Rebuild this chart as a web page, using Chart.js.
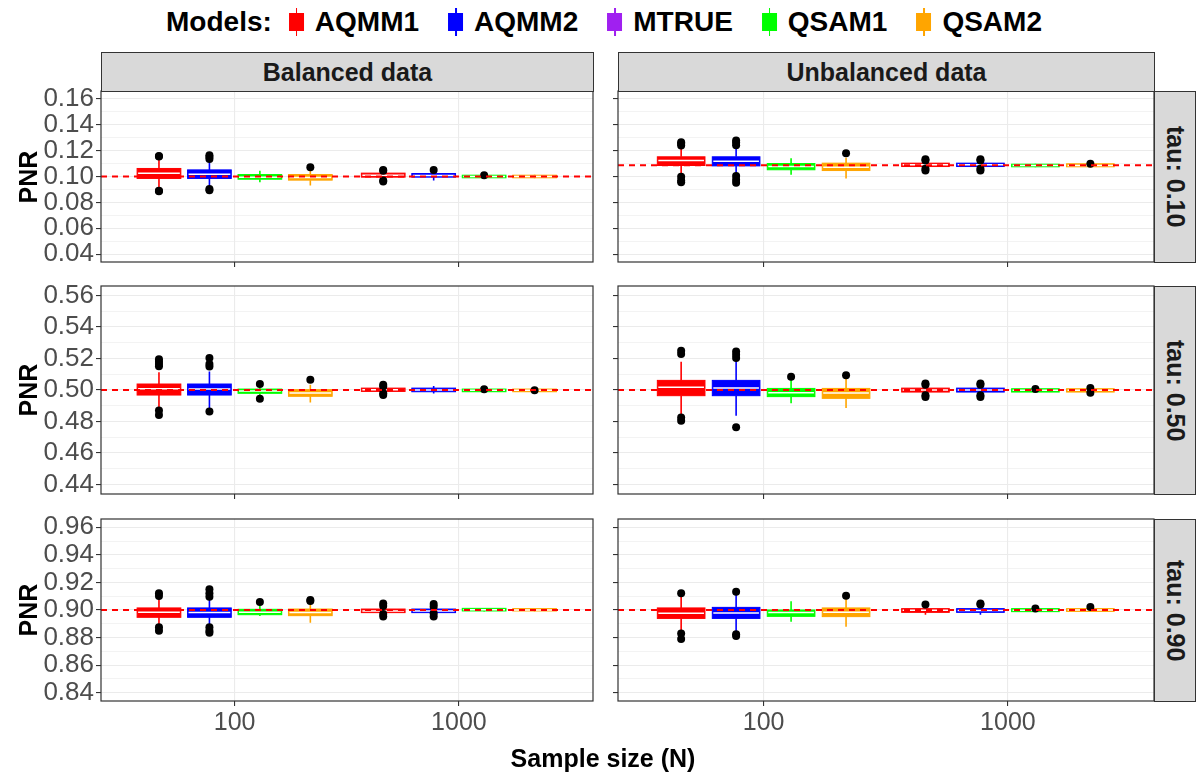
<!DOCTYPE html>
<html>
<head>
<meta charset="utf-8">
<script src="https://cdn.jsdelivr.net/npm/chart.js@4.4.0/dist/chart.umd.min.js"></script>
<style>
  body { margin: 0; width: 1198px; height: 775px; background: #fff; position: relative; overflow: hidden;
         font-family: "Liberation Sans", Arial, Helvetica, sans-serif; }
  .abs { position: absolute; }
  .strip { position: absolute; background: #D9D9D9; border: 1px solid #333; box-sizing: border-box;
           display: flex; align-items: center; justify-content: center; color: #1A1A1A; font-weight: bold; font-size: 25px; }
  .vstrip span { writing-mode: vertical-rl; }
  .title { position: absolute; font-weight: bold; font-size: 25px; color: #000; white-space: nowrap; transform: translate(-50%, -50%); }
  #legend { position: absolute; left: 604px; top: 22px; transform: translate(-50%, -50%); display: flex; align-items: center;
            font-weight: bold; font-size: 28px; white-space: nowrap; }
  .key { position: relative; width: 15px; height: 28px; margin-right: 11px; }
  .key i { position: absolute; left: 7px; top: 0; width: 1.5px; height: 28px; }
  .key b { position: absolute; left: 0; top: 5px; width: 15px; height: 18px; }
  .item { display: flex; align-items: center; }
</style>
</head>
<body>
<div id="legend"><span>Models:</span></div>

<script>
// ---- data ----
const models = ['AQMM1', 'AQMM2', 'QSAM1', 'QSAM2'];
const modelColors = ['#FF0000', '#0000FF', '#00FF00', '#FFA500'];
const legendModels = ['AQMM1', 'AQMM2', 'MTRUE', 'QSAM1', 'QSAM2'];
const legendColors = ['#FF0000', '#0000FF', '#A020F0', '#00FF00', '#FFA500'];
const sampleSizes = [100, 1000];
const xTickLabels = ['100', '1000'];
const designs = ['Balanced data', 'Unbalanced data'];
const taus = ['tau: 0.10', 'tau: 0.50', 'tau: 0.90'];

const yTicksTau10 = ['0.04', '0.06', '0.08', '0.10', '0.12', '0.14', '0.16'];
const yTicksTau50 = ['0.44', '0.46', '0.48', '0.50', '0.52', '0.54', '0.56'];
const yTicksTau90 = ['0.84', '0.86', '0.88', '0.90', '0.92', '0.94', '0.96'];
const yLimits = [[0.034, 0.166], [0.434, 0.566], [0.834, 0.966]];

// true PNR (dashed line): [balanced, unbalanced] per tau
const trueTau10 = [0.100, 0.1087];
const trueTau50 = [0.500, 0.500];
const trueTau90 = [0.900, 0.900];

// box stats [lower whisker, q1, median, q3, upper whisker]
// order: N=100 (AQMM1, AQMM2, QSAM1, QSAM2), then N=1000 (same)
const balTau10 = [
  [0.0905, 0.0985, 0.1026, 0.1062, 0.1135],
  [0.0923, 0.0985, 0.1018, 0.1051, 0.1115],
  [0.0956, 0.0979, 0.0995, 0.1015, 0.1044],
  [0.0931, 0.0972, 0.0993, 0.1015, 0.1051],
  [0.0979, 0.0995, 0.1010, 0.1026, 0.1038],
  [0.0969, 0.0995, 0.1008, 0.1023, 0.1038],
  [0.0987, 0.0990, 0.1000, 0.1010, 0.1012],
  [0.0987, 0.0990, 0.1000, 0.1010, 0.1013]
];
const unbTau10 = [
  [0.1015, 0.1085, 0.1123, 0.1152, 0.1215],
  [0.1023, 0.1082, 0.1118, 0.1152, 0.1226],
  [0.1013, 0.1052, 0.1077, 0.1100, 0.1141],
  [0.0985, 0.1046, 0.1072, 0.1103, 0.1144],
  [0.1068, 0.1077, 0.1090, 0.1103, 0.1112],
  [0.1068, 0.1077, 0.1090, 0.1103, 0.1112],
  [0.1072, 0.1075, 0.1085, 0.1095, 0.1098],
  [0.1072, 0.1075, 0.1085, 0.1098, 0.1100]
];
const balTau50 = [
  [0.4891, 0.4968, 0.5008, 0.5038, 0.5113],
  [0.4882, 0.4968, 0.5006, 0.5038, 0.5117],
  [0.4960, 0.4979, 0.4994, 0.5006, 0.5023],
  [0.4920, 0.4960, 0.4981, 0.5002, 0.5033],
  [0.4982, 0.4991, 0.5002, 0.5012, 0.5020],
  [0.4977, 0.4989, 0.5000, 0.5012, 0.5025],
  [0.4987, 0.4989, 0.4998, 0.5006, 0.5008],
  [0.4987, 0.4989, 0.4998, 0.5006, 0.5008]
];
const unbTau50 = [
  [0.4840, 0.4964, 0.5017, 0.5061, 0.5180],
  [0.4836, 0.4964, 0.5012, 0.5061, 0.5193],
  [0.4916, 0.4958, 0.4983, 0.5010, 0.5063],
  [0.4885, 0.4947, 0.4981, 0.5010, 0.5077],
  [0.4980, 0.4987, 0.5000, 0.5012, 0.5020],
  [0.4980, 0.4987, 0.5000, 0.5012, 0.5020],
  [0.4985, 0.4987, 0.4998, 0.5008, 0.5010],
  [0.4985, 0.4987, 0.4998, 0.5008, 0.5010]
];
const balTau90 = [
  [0.8884, 0.8947, 0.8983, 0.9015, 0.9082],
  [0.8884, 0.8947, 0.8981, 0.9015, 0.9080],
  [0.8956, 0.8966, 0.8983, 0.9005, 0.9034],
  [0.8908, 0.8959, 0.8981, 0.9007, 0.9048],
  [0.8978, 0.8981, 0.8993, 0.9007, 0.9020],
  [0.8978, 0.8981, 0.8993, 0.9007, 0.9018],
  [0.8990, 0.8993, 0.9002, 0.9012, 0.9015],
  [0.8990, 0.8993, 0.9000, 0.9010, 0.9013]
];
const unbTau90 = [
  [0.8838, 0.8939, 0.8976, 0.9015, 0.9104],
  [0.8838, 0.8939, 0.8978, 0.9019, 0.9116],
  [0.8915, 0.8954, 0.8981, 0.9000, 0.9063],
  [0.8879, 0.8952, 0.8983, 0.9015, 0.9080],
  [0.8966, 0.8983, 0.8998, 0.9010, 0.9018],
  [0.8966, 0.8983, 0.8996, 0.9010, 0.9018],
  [0.8985, 0.8988, 0.8998, 0.9010, 0.9012],
  [0.8987, 0.8990, 0.9000, 0.9010, 0.9012]
];

// outliers [box index, value]
const balTau10Out = [[0, 0.1158], [0, 0.1154], [0, 0.0886], [0, 0.0890], [1, 0.1164], [1, 0.1150], [1, 0.1136],
  [1, 0.0903], [1, 0.0893], [3, 0.1072], [4, 0.1051], [4, 0.1045], [4, 0.0969], [4, 0.0962], [5, 0.1051], [6, 0.1010]];
const unbTau10Out = [[0, 0.1265], [0, 0.1252], [0, 0.1240], [0, 0.0998], [0, 0.0970], [0, 0.0955],
  [1, 0.1277], [1, 0.1262], [1, 0.1241], [1, 0.1003], [1, 0.0975], [1, 0.0951], [3, 0.1180],
  [4, 0.1134], [4, 0.1123], [4, 0.1059], [4, 0.1046], [5, 0.1134], [5, 0.1123], [5, 0.1059], [5, 0.1046], [7, 0.1098]];
const balTau50Out = [[0, 0.5195], [0, 0.5180], [0, 0.5165], [0, 0.5150], [0, 0.4870], [0, 0.4841],
  [1, 0.5203], [1, 0.5165], [1, 0.5149], [1, 0.4864], [2, 0.5038], [2, 0.4945], [3, 0.5065],
  [4, 0.5033], [4, 0.5023], [4, 0.4979], [4, 0.4968], [6, 0.5004], [7, 0.4998]];
const unbTau50Out = [[0, 0.5249], [0, 0.5228], [0, 0.4826], [0, 0.4805], [1, 0.5245], [1, 0.5224], [1, 0.5203],
  [1, 0.4763], [2, 0.5084], [3, 0.5094], [4, 0.5042], [4, 0.5033], [4, 0.4966], [4, 0.4956],
  [5, 0.5042], [5, 0.5033], [5, 0.4966], [5, 0.4956], [6, 0.5006], [7, 0.5012], [7, 0.4983]];
const balTau90Out = [[0, 0.9121], [0, 0.9102], [0, 0.8874], [0, 0.8850], [1, 0.9150], [1, 0.9121], [1, 0.9097],
  [1, 0.8874], [1, 0.8850], [1, 0.8835], [2, 0.9058], [3, 0.9073], [3, 0.9065],
  [4, 0.9048], [4, 0.9029], [4, 0.8971], [4, 0.8952], [5, 0.9044], [5, 0.9024], [5, 0.8976], [5, 0.8952]];
const unbTau90Out = [[0, 0.9121], [0, 0.8830], [0, 0.8789], [1, 0.9133], [1, 0.8825], [1, 0.8811], [3, 0.9104],
  [4, 0.9039], [5, 0.9048], [5, 0.9039], [6, 0.9010], [7, 0.9022]];

// ---- layout ----
const colX = [[101, 593], [618, 1154]];
const rowY = [[91, 262], [286, 494], [519, 701]];
const dodge = [-0.3375, -0.1125, 0.1125, 0.3375];   // decades
const boxHalf = 0.0975;
const xLog = [1.404, 3.598];
const fontFam = '"Liberation Sans", Arial, Helvetica, sans-serif';

Chart.defaults.font.family = fontFam;

const boxPlugin = {
  id: 'boxes',
  beforeDatasetsDraw(chart, args, opts) {
    const { ctx, scales: { x, y } } = chart;
    ctx.save();
    opts.stats.forEach((b, i) => {
      const m = i % models.length;
      const c = sampleSizes[Math.floor(i / models.length)] * Math.pow(10, dodge[m]);
      const xc = x.getPixelForValue(c);
      const xl = x.getPixelForValue(c / Math.pow(10, boxHalf));
      const xr = x.getPixelForValue(c * Math.pow(10, boxHalf));
      const [lo, q1, med, q3, hi] = b.map(v => y.getPixelForValue(v));
      ctx.strokeStyle = modelColors[m];
      ctx.fillStyle = modelColors[m];
      ctx.lineWidth = 1.6;
      ctx.beginPath();
      ctx.moveTo(xc, hi); ctx.lineTo(xc, q3);
      ctx.moveTo(xc, q1); ctx.lineTo(xc, lo);
      ctx.stroke();
      ctx.fillRect(xl, q3, xr - xl, q1 - q3);
      ctx.lineWidth = 1;
      ctx.strokeRect(xl, q3, xr - xl, q1 - q3);
      ctx.strokeStyle = '#FFFFFF';
      ctx.lineWidth = 1.5;
      ctx.beginPath();
      ctx.moveTo(xl + 1, med); ctx.lineTo(xr - 1, med);
      ctx.stroke();
    });
    ctx.restore();
  },
  afterDraw(chart) {
    const { ctx, chartArea: a } = chart;
    ctx.save();
    ctx.strokeStyle = '#333333';
    ctx.lineWidth = 1.2;
    ctx.strokeRect(a.left, a.top, a.right - a.left, a.bottom - a.top);
    ctx.restore();
  }
};

function makePanel(col, row, stats, outliers, trueValue, tickLabels) {
  const [px0, px1] = colX[col];
  const [py0, py1] = rowY[row];
  const yW = col === 0 ? 60 : 5;
  const xH = row === 2 ? 40 : 5;
  const pad = { left: 2, top: 20, right: 20, bottom: 20 };
  const w = px1 - px0 + yW + pad.left + pad.right;
  const h = py1 - py0 + xH + pad.top + pad.bottom;
  const canvas = document.createElement('canvas');
  canvas.width = w; canvas.height = h;
  canvas.className = 'abs';
  canvas.style.left = (px0 - yW - pad.left) + 'px';
  canvas.style.top = (py0 - pad.top) + 'px';
  document.body.appendChild(canvas);

  const majors = tickLabels.map(Number);
  const yTicks = [];
  majors.forEach((v, i) => {
    yTicks.push({ value: v, isMajor: true, label: tickLabels[i] });
    if (i < majors.length - 1) yTicks.push({ value: (v + majors[i + 1]) / 2, isMajor: false, label: '' });
  });
  const xMin = Math.pow(10, xLog[0]), xMax = Math.pow(10, xLog[1]);
  const outPts = outliers.map(([i, v]) => ({
    x: sampleSizes[Math.floor(i / models.length)] * Math.pow(10, dodge[i % models.length]),
    y: v
  }));

  new Chart(canvas, {
    type: 'scatter',
    data: {
      datasets: [
        { type: 'line', data: [{ x: xMin, y: trueValue }, { x: xMax, y: trueValue }],
          borderColor: '#FF0000', borderWidth: 1.9, borderDash: [6, 5], pointRadius: 0, fill: false },
        { data: outPts, backgroundColor: '#000000', borderColor: '#000000', pointRadius: 4, borderWidth: 0 }
      ]
    },
    options: {
      responsive: false,
      animation: false,
      events: [],
      layout: { padding: pad },
      plugins: { legend: { display: false }, tooltip: { enabled: false }, boxes: { stats } },
      scales: {
        x: {
          type: 'logarithmic', min: xMin, max: xMax,
          afterBuildTicks: s => { s.ticks = sampleSizes.map(v => ({ value: v })); },
          afterFit: s => { s.height = xH; },
          border: { display: false },
          grid: { color: '#EBEBEB', lineWidth: 1.1, tickColor: '#333333', tickLength: 5, tickWidth: 1.1 },
          ticks: { display: row === 2, color: '#4D4D4D', font: { size: 25 }, padding: 2,
                   maxRotation: 0, autoSkip: false, callback: (v, i) => xTickLabels[i] }
        },
        y: {
          type: 'linear', min: yLimits[row][0], max: yLimits[row][1],
          afterBuildTicks: s => { s.ticks = yTicks.map(t => ({ ...t })); },
          afterFit: s => { s.width = yW; },
          border: { display: false },
          grid: {
            color: '#EBEBEB',
            lineWidth: c => (c.tick && c.tick.isMajor ? 1.1 : 0.6),
            tickColor: c => (c.tick && c.tick.isMajor ? '#333333' : 'rgba(0,0,0,0)'),
            tickLength: 5, tickWidth: 1.1
          },
          ticks: { display: col === 0, color: '#4D4D4D', font: { size: 26 }, padding: 2, autoSkip: false,
                   callback: (v, i, ticks) => ticks[i].label }
        }
      }
    },
    plugins: [boxPlugin]
  });
}

const panelStats = [[balTau10, unbTau10], [balTau50, unbTau50], [balTau90, unbTau90]];
const panelOut = [[balTau10Out, unbTau10Out], [balTau50Out, unbTau50Out], [balTau90Out, unbTau90Out]];
const panelTrue = [trueTau10, trueTau50, trueTau90];
const panelTicks = [yTicksTau10, yTicksTau50, yTicksTau90];

for (let r = 0; r < 3; r++) {
  for (let c = 0; c < 2; c++) {
    makePanel(c, r, panelStats[r][c], panelOut[r][c], panelTrue[r][c], panelTicks[r]);
  }
}

// strips, titles, legend
function addDiv(cls, style, html) {
  const d = document.createElement('div');
  d.className = cls;
  Object.assign(d.style, style);
  d.innerHTML = html;
  document.body.appendChild(d);
  return d;
}
designs.forEach((t, c) => {
  const [x0, x1] = colX[c];
  addDiv('strip', { left: x0 + 'px', top: '52px', width: (x1 - x0 + 1) + 'px', height: '40px' }, t);
});
taus.forEach((t, r) => {
  const [y0, y1] = rowY[r];
  addDiv('strip vstrip', { left: '1154px', top: y0 + 'px', width: '42px', height: (y1 - y0 + 1) + 'px' }, '<span>' + t + '</span>');
  addDiv('title', { left: '28px', top: ((y0 + y1) / 2) + 'px', transform: 'translate(-50%, -50%) rotate(-90deg)' }, 'PNR');
});
addDiv('title', { left: '603px', top: '758px' }, 'Sample size (N)');

const legend = document.getElementById('legend');
legendModels.forEach((m, i) => {
  const it = document.createElement('div');
  it.className = 'item';
  it.style.marginLeft = i === 0 ? '17px' : '29px';
  it.innerHTML = '<div class="key"><i style="background:' + legendColors[i] + '"></i><b style="background:' +
    legendColors[i] + '"></b></div><span>' + m + '</span>';
  legend.appendChild(it);
});
</script>
</body>
</html>
